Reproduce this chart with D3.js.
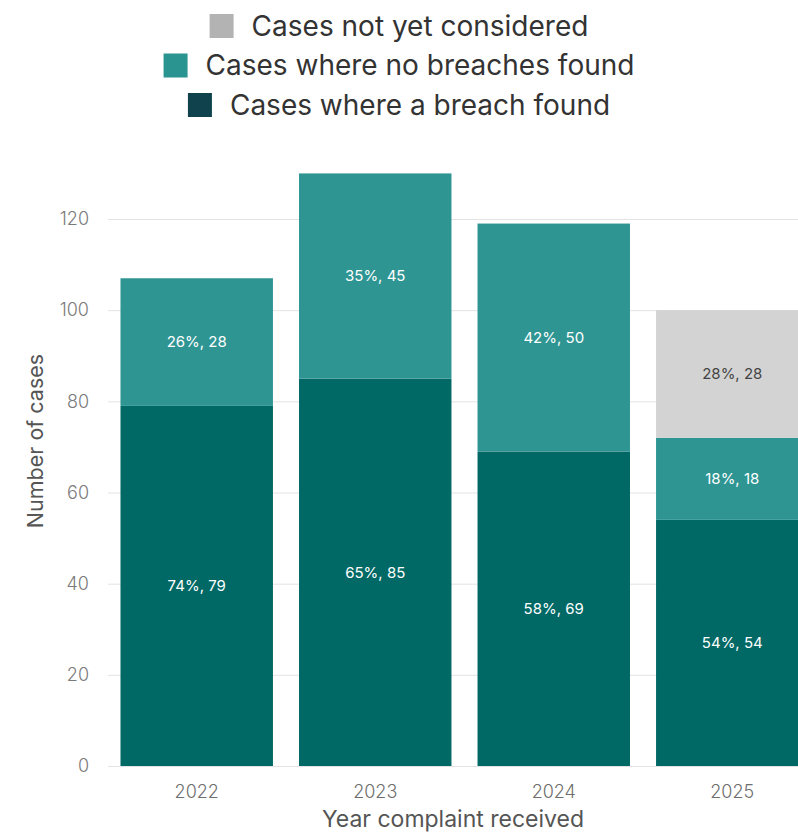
<!DOCTYPE html>
<html>
<head>
<meta charset="utf-8">
<script src="https://cdn.jsdelivr.net/npm/d3@7"></script>
<style>
    body { margin: 0; background: #fff; }
    text { font-family: Inter, "Noto Sans", sans-serif; }
</style>
</head>
<body>
<svg id="main"></svg>
<script>
const width = 798;
const height = 833;

const years = ['2022', '2023', '2024', '2025'];
const breachFound = [79, 85, 69, 54];
const noBreach = [28, 45, 50, 18];
const notConsidered = [0, 0, 0, 28];
const yTicks = [0, 20, 40, 60, 80, 100, 120];

const seriesNames = ['Cases where a breach found', 'Cases where no breaches found', 'Cases not yet considered'];
const barColors = ['#006865', '#2e9593', '#d3d3d3'];
const swatchColors = ['#0f424d', '#2a9490', '#b3b3b3'];
const labelColors = ['#ffffff', '#ffffff', '#444444'];

const rows = years.map((y, i) => ({
    year: y,
    s0: breachFound[i],
    s1: noBreach[i],
    s2: notConsidered[i]
}));

const svg = d3.select('#main').attr('width', width).attr('height', height);

const xScale = d3.scaleBand()
    .domain(years)
    .range([108, 821])
    .paddingInner(0.146)
    .paddingOuter(0.07);
const yScale = d3.scaleLinear()
    .domain([0, 120])
    .range([766, 219]);

// grid lines
svg.append('g')
    .selectAll('line')
    .data(yTicks)
    .join('line')
    .attr('x1', 108)
    .attr('x2', width)
    .attr('y1', d => yScale(d) + 0.5)
    .attr('y2', d => yScale(d) + 0.5)
    .attr('stroke', '#e3e3e3')
    .attr('stroke-width', 1);

// y tick labels
svg.append('g')
    .selectAll('text')
    .data(yTicks)
    .join('text')
    .attr('x', 89)
    .attr('y', d => yScale(d))
    .attr('dy', '0.35em')
    .attr('text-anchor', 'end')
    .attr('fill', '#7a7a7a')
    .attr('font-size', 18)
    .attr('font-weight', 300)
    .text(d => d);

// stacked bars
const stack = d3.stack().keys(['s0', 's1', 's2'])(rows);
const layers = svg.append('g')
    .selectAll('g')
    .data(stack)
    .join('g')
    .attr('fill', (d, i) => barColors[i]);

layers.selectAll('rect')
    .data(d => d.filter(p => p[1] > p[0]))
    .join('rect')
    .attr('x', d => xScale(d.data.year))
    .attr('width', xScale.bandwidth())
    .attr('y', d => yScale(d[1]))
    .attr('height', d => yScale(d[0]) - yScale(d[1]));

// segment labels
stack.forEach((layer, i) => {
    svg.append('g')
        .selectAll('text')
        .data(layer.filter(p => p[1] > p[0]))
        .join('text')
        .attr('x', d => xScale(d.data.year) + xScale.bandwidth() / 2)
        .attr('y', d => yScale((d[0] + d[1]) / 2))
        .attr('dy', '0.35em')
        .attr('text-anchor', 'middle')
        .attr('fill', labelColors[i])
        .attr('font-size', 15)
        .text(d => {
            const total = d.data.s0 + d.data.s1 + d.data.s2;
            const v = d[1] - d[0];
            return `${Math.round(v / total * 100)}%, ${v}`;
        });
});

// x tick labels
svg.append('g')
    .selectAll('text')
    .data(years)
    .join('text')
    .attr('x', d => xScale(d) + xScale.bandwidth() / 2)
    .attr('y', 792)
    .attr('dy', '0.35em')
    .attr('text-anchor', 'middle')
    .attr('fill', '#6e6e6e')
    .attr('font-size', 18)
    .attr('font-weight', 300)
    .text(d => d);

// axis titles
svg.append('text')
    .attr('x', 453)
    .attr('y', 819)
    .attr('dy', '0.35em')
    .attr('text-anchor', 'middle')
    .attr('fill', '#555')
    .attr('font-size', 23)
    .text('Year complaint received');

svg.append('text')
    .attr('transform', 'translate(35, 441) rotate(-90)')
    .attr('dy', '0.35em')
    .attr('text-anchor', 'middle')
    .attr('fill', '#555')
    .attr('font-size', 21.5)
    .text('Number of cases');

// legend, reversed order, each row centred
const legendOrder = [2, 1, 0];
const legend = svg.append('g');
legendOrder.forEach((s, row) => {
    const g = legend.append('g');
    const cy = 26 + row * 39.5;
    const t = g.append('text')
        .attr('x', 0)
        .attr('y', cy)
        .attr('dy', '0.35em')
        .attr('fill', '#333')
        .attr('font-size', 28)
        .text(seriesNames[s]);
    const tw = t.node().getComputedTextLength();
    const total = 24 + 18 + tw;
    const x0 = width / 2 - total / 2;
    g.append('rect')
        .attr('x', x0)
        .attr('y', cy - 12)
        .attr('width', 24)
        .attr('height', 24)
        .attr('fill', swatchColors[s]);
    t.attr('x', x0 + 42);
});
</script>
</body>
</html>
